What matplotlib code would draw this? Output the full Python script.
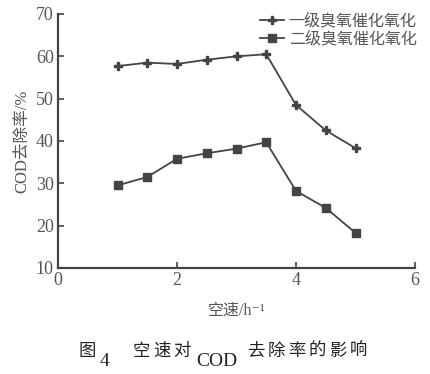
import matplotlib.pyplot as plt

plt.rcParams['font.family'] = ['Liberation Serif', 'Noto Sans CJK SC', 'DejaVu Sans']

space_velocity = [1.0, 1.5, 2.0, 2.5, 3.0, 3.5, 4.0, 4.5, 5.0]
first_stage = [57.7, 58.5, 58.2, 59.2, 60.0, 60.5, 48.5, 42.5, 38.3]
second_stage = [29.5, 31.5, 35.8, 37.1, 38.2, 39.7, 28.2, 24.2, 18.3]
labels = ['一级臭氧催化氧化', '二级臭氧催化氧化']

W, H = 430, 374
fig = plt.figure(figsize=(W / 100, H / 100), dpi=100)
ax = fig.add_axes([58 / W, 1 - 268 / H, 357 / W, 254 / H])

c = '#444444'
tc = '#555555'
ax.plot(space_velocity, first_stage, color=c, lw=1.3, marker='P', ms=6, label=labels[0])
ax.plot(space_velocity, second_stage, color=c, lw=1.3, marker='s', ms=5.5, label=labels[1])

ax.set_xlim(0, 6)
ax.set_ylim(10, 70)
ax.set_xticks([0, 2, 4, 6])
ax.set_yticks(range(10, 71, 10))
ax.tick_params(direction='in', length=4, width=1.2, colors=c, labelsize=13,
               labelcolor=tc, pad=3)
ax.spines['top'].set_visible(False)
ax.spines['right'].set_visible(False)
for s in ['left', 'bottom']:
    ax.spines[s].set_color(c)
    ax.spines[s].set_linewidth(1.6)

ax.set_ylabel('COD去除率/%', fontsize=12, color=tc, labelpad=4)
ax.set_xlabel('空速/h⁻¹', fontsize=11.5, color=tc, labelpad=10)

leg = ax.legend(loc='upper right', bbox_to_anchor=(1.045, 1.06), frameon=False,
                fontsize=11.5, handlelength=1.5, handletextpad=0.3, labelspacing=0.15)
for t in leg.get_texts():
    t.set_color(tc)

# caption: spaced characters, with lowered "4" and "COD"
cap = '#222222'
def spaced(text, x0, pitch, y):
    for i, ch in enumerate(text):
        fig.text((x0 + i * pitch) / W, 1 - y / H, ch, fontsize=12.5, color=cap, va='center')

spaced('图', 78, 20, 352)
fig.text(100 / W, 1 - 362 / H, '4', fontsize=14, color=cap, va='center')
spaced('空速对', 133, 20, 352)
fig.text(196 / W, 1 - 362 / H, 'COD', fontsize=14, color=cap, va='center')
spaced('去除率的影响', 247, 20.5, 352)

fig.savefig('out.png', dpi=100)
